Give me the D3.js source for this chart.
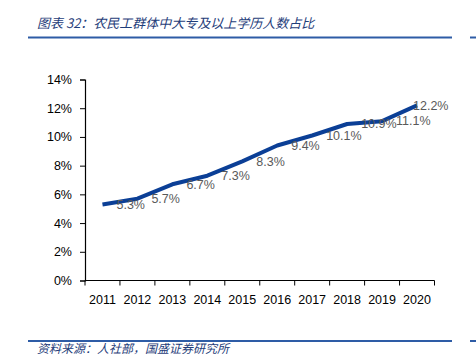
<!DOCTYPE html>
<html><head><meta charset="utf-8">
<script src="https://cdn.jsdelivr.net/npm/d3@7"></script>
<style>
html,body{margin:0;padding:0;background:#fff;}
svg{display:block;}
</style></head>
<body>
<script>
const years = ["2011","2012","2013","2014","2015","2016","2017","2018","2019","2020"];
const shares = [5.3, 5.7, 6.7, 7.3, 8.3, 9.4, 10.1, 10.9, 11.1, 12.2];
const yTicks = [0, 2, 4, 6, 8, 10, 12, 14];
const titleText = "图表 32：农民工群体中大专及以上学历人数占比";
const sourceText = "资料来源：人社部，国盛证券研究所";

const W = 476, H = 356;
const svg = d3.select("body").append("svg").attr("width", W).attr("height", H);

// header/footer rules
const ruleColor = "#2E5CA6";
[37.5, 341].forEach(y => {
  svg.append("line").attr("x1", 28).attr("x2", 452).attr("y1", y).attr("y2", y)
    .attr("stroke", ruleColor).attr("stroke-width", 2);
  svg.append("line").attr("x1", 470).attr("x2", 476).attr("y1", y).attr("y2", y)
    .attr("stroke", ruleColor).attr("stroke-width", 2);
});

svg.append("text").attr("x", 37).attr("y", 28)
  .attr("font-family", "'Noto Sans CJK SC', sans-serif").attr("font-style", "italic")
  .attr("font-size", 13).attr("fill", "#1F3D7A").text(titleText);

svg.append("text").attr("x", 37).attr("y", 352.5)
  .attr("font-family", "'Noto Sans CJK SC', sans-serif").attr("font-style", "italic")
  .attr("font-size", 12).attr("fill", "#1F3D7A").text(sourceText);

const x = d3.scaleBand().domain(years).range([85, 434.5]).paddingInner(0).paddingOuter(0);
const y = d3.scaleLinear().domain([0, 14]).range([280.5, 79.5]);

const font = "'Liberation Sans', Arial, sans-serif";

// y axis
const yAxis = svg.append("g").attr("transform", "translate(85,0)")
  .call(d3.axisLeft(y).tickValues(yTicks).tickFormat(d => d + "%").tickSize(5).tickPadding(8));
yAxis.select(".domain").attr("stroke", "#000").attr("stroke-width", 1.2);
yAxis.selectAll(".tick line").attr("stroke", "#000");
yAxis.selectAll("text").attr("font-family", font).attr("font-size", 12.5).attr("fill", "#000");

// x axis with ticks between categories
const xAxisG = svg.append("g").attr("transform", "translate(0,280.5)");
xAxisG.append("line").attr("x1", 85).attr("x2", 434.5).attr("y1", 0).attr("y2", 0)
  .attr("stroke", "#000").attr("stroke-width", 1.2);
const bounds = years.map(d => x(d)).concat([x(years[years.length - 1]) + x.bandwidth()]);
xAxisG.selectAll(".tk").data(bounds).enter().append("line")
  .attr("x1", d => d).attr("x2", d => d).attr("y1", 0).attr("y2", 5)
  .attr("stroke", "#000");
xAxisG.selectAll(".lbl").data(years).enter().append("text")
  .attr("x", d => x(d) + x.bandwidth() / 2).attr("y", 23.5)
  .attr("text-anchor", "middle").attr("font-family", font).attr("font-size", 12.5)
  .attr("fill", "#000").text(d => d);

// line
const cx = d => x(d) + x.bandwidth() / 2;
const line = d3.line().x((d, i) => cx(years[i])).y(d => y(d));
svg.append("path").datum(shares).attr("d", line)
  .attr("fill", "none").attr("stroke", "#0B3F96").attr("stroke-width", 4)
  .attr("stroke-linejoin", "round").attr("stroke-linecap", "butt");

// labels
svg.selectAll(".dl").data(shares).enter().append("text")
  .attr("x", (d, i) => i === shares.length - 1 ? cx(years[i]) - 4 : cx(years[i]) + 14)
  .attr("y", d => y(d) + 1)
  .attr("dominant-baseline", "middle")
  .attr("font-family", font).attr("font-size", 12.5).attr("fill", "#595959")
  .text(d => d.toFixed(1) + "%");
</script>
</body></html>
